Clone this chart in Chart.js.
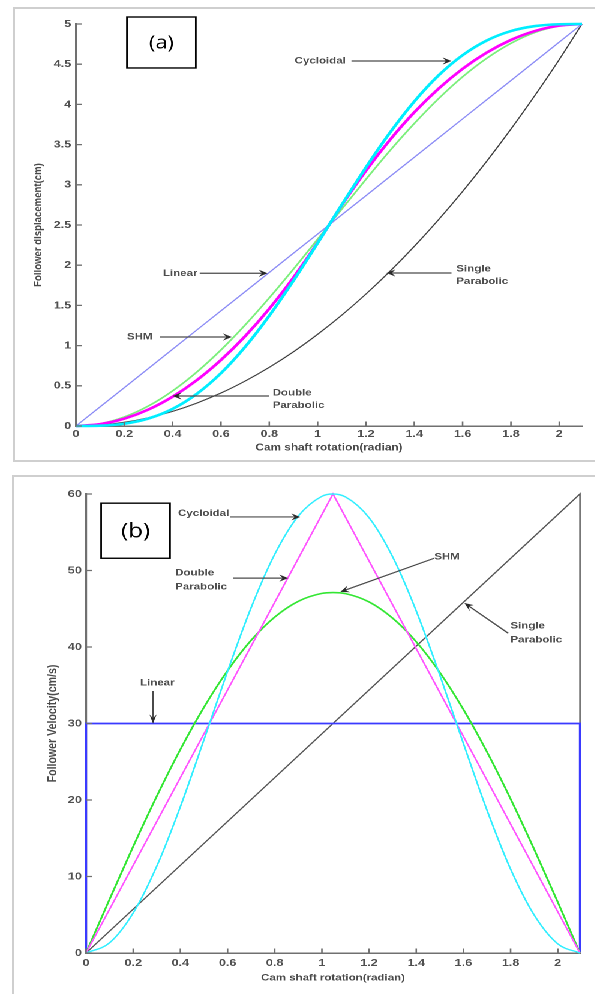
<!DOCTYPE html>
<html>
<head>
<meta charset="utf-8">
<script src="https://cdn.jsdelivr.net/npm/chart.js@4.4.1/dist/chart.umd.min.js"></script>
<style>
  html, body { margin:0; padding:0; background:#fff; width:595px; height:994px; overflow:hidden; }
  .frame { position:absolute; border:2px solid #cfcfcf; border-right:none; }
  #frameA { left:13px; top:7px; width:700px; height:451px; }
  #frameB { left:12px; top:475px; width:700px; height:700px; }
  #wrap { position:absolute; left:0; top:0; width:496px; height:994px; transform:scaleX(1.2); transform-origin:0 0; }
  #c1 { position:absolute; left:0; top:0; }
  #c2 { position:absolute; left:0; top:470px; }
</style>
</head>
<body>
<div class="frame" id="frameA"></div>
<div class="frame" id="frameB"></div>
<div id="wrap">
  <canvas id="c1" width="496" height="470"></canvas>
  <canvas id="c2" width="496" height="524"></canvas>
</div>
<script>
// ---------- data ----------
const S = 1.2; // horizontal stretch of the picture
const thetaMax = 2.094;
const xTicks = [0, 0.2, 0.4, 0.6, 0.8, 1, 1.2, 1.4, 1.6, 1.8, 2];
const yTicksA = [0, 0.5, 1, 1.5, 2, 2.5, 3, 3.5, 4, 4.5, 5];
const yTicksB = [0, 10, 20, 30, 40, 50, 60];

// (a) follower displacement (cm)
const dispTheta    = [0, 0.1, 0.2, 0.3, 0.4, 0.5, 0.6, 0.7, 0.8, 0.9, 1.0, 1.1, 1.2, 1.3, 1.4, 1.5, 1.6, 1.7, 1.8, 1.9, 2.0, 2.094];
const dispLinear   = [0, 0.239, 0.477, 0.716, 0.955, 1.194, 1.432, 1.671, 1.910, 2.149, 2.387, 2.626, 2.865, 3.104, 3.342, 3.581, 3.820, 4.058, 4.297, 4.536, 4.775, 5];
const dispSingle   = [0, 0.011, 0.046, 0.103, 0.182, 0.285, 0.410, 0.559, 0.730, 0.923, 1.140, 1.379, 1.641, 1.926, 2.234, 2.565, 2.918, 3.294, 3.693, 4.115, 4.559, 5];
const dispSHM      = [0, 0.028, 0.112, 0.249, 0.437, 0.671, 0.946, 1.256, 1.594, 1.952, 2.323, 2.698, 3.068, 3.427, 3.762, 4.070, 4.343, 4.574, 4.760, 4.896, 4.975, 5];
const dispCycloid  = [0, 0.004, 0.028, 0.093, 0.213, 0.400, 0.657, 0.984, 1.372, 1.808, 2.275, 2.752, 3.217, 3.651, 4.036, 4.359, 4.612, 4.795, 4.912, 4.974, 4.997, 5];
const dispDouble   = [0, 0.023, 0.091, 0.205, 0.365, 0.570, 0.821, 1.117, 1.459, 1.847, 2.280, 2.746, 3.176, 3.561, 3.901, 4.195, 4.443, 4.645, 4.802, 4.914, 4.980, 5];

// (b) follower velocity (cm/s)
const velTheta     = [0, 0.1, 0.2, 0.3, 0.4, 0.5, 0.6, 0.7, 0.8, 0.9, 1.0, 1.047, 1.1, 1.2, 1.3, 1.4, 1.5, 1.6, 1.7, 1.8, 1.9, 2.0, 2.094];
const velCycloid   = [0, 1.34, 5.24, 11.35, 19.13, 27.88, 36.82, 45.15, 52.12, 57.12, 59.70, 60, 59.62, 56.90, 51.78, 44.71, 36.32, 27.38, 18.66, 10.96, 4.96, 1.20, 0];
const velSHM       = [0, 7.04, 13.93, 20.50, 26.61, 32.12, 36.91, 40.88, 43.92, 45.98, 47.01, 47.12, 46.98, 45.89, 43.76, 40.68, 36.67, 31.83, 26.28, 20.14, 13.55, 6.65, 0];
const velDoubleX   = [0, 1.047, 2.094];
const velDouble    = [0, 60, 0];
const velSingleX   = [0, 2.094, 2.094];
const velSingle    = [0, 60, 0];
const velLinearX   = [0, 0, 2.094, 2.094];
const velLinear    = [0, 30, 30, 0];

// annotations (data coordinates)
const notesA = [
  { lines:['Cycloidal'], tx:0.905, ty:4.54, from:[1.14, 4.54], to:[1.554, 4.54] },
  { lines:['Linear'], tx:0.36, ty:1.90, from:[0.512, 1.90], to:[0.793, 1.90] },
  { lines:['SHM'], tx:0.211, ty:1.107, from:[0.347, 1.107], to:[0.645, 1.107] },
  { lines:['Double', 'Parabolic'], tx:0.814, ty:0.41, from:[0.80, 0.373], to:[0.40, 0.373] },
  { lines:['Single', 'Parabolic'], tx:1.574, ty:1.953, from:[1.554, 1.903], to:[1.285, 1.903] }
];
const notesB = [
  { lines:['Cycloidal'], tx:0.39, ty:57.5, from:[0.611, 57.0], to:[0.908, 57.0] },
  { lines:['Double', 'Parabolic'], tx:0.378, ty:49.67, from:[0.624, 49.0], to:[0.857, 49.0] },
  { lines:['SHM'], tx:1.476, ty:51.76, from:[1.476, 51.6], to:[1.078, 47.2] },
  { lines:['Single', 'Parabolic'], tx:1.799, ty:42.75, from:[1.79, 41.8], to:[1.604, 45.75] },
  { lines:['Linear'], tx:0.229, ty:35.3, from:[0.284, 34.25], to:[0.284, 30.0] }
];
const boxA = { label:'(a)', x0:0.211, x1:0.496, y0:5.087, y1:4.453, size:18 };
const boxB = { label:'(b)', x0:0.064, x1:0.356, y0:58.8, y1:51.6, size:20 };
const xTitle = 'Cam shaft rotation(radian)';
const yTitleA = 'Follower displacement(cm)';
const yTitleB = 'Follower Velocity(cm/s)';

// ---------- helpers ----------
function pts(xs, ys) { return xs.map((x, i) => ({ x: x, y: ys[i] })); }
const FONT = '"Liberation Sans", Arial, Helvetica, sans-serif';
Chart.defaults.font.family = FONT;
Chart.defaults.color = '#4d4d4d';

const decor = {
  id: 'decor',
  afterDraw(chart, args, o) {
    const { ctx, chartArea: a } = chart;
    const xs = chart.scales.x, ys = chart.scales.y;
    const px = v => xs.getPixelForValue(v), py = v => ys.getPixelForValue(v);
    ctx.save();
    // inward tick marks
    ctx.strokeStyle = o.axisColor; ctx.lineWidth = 1.3;
    ctx.beginPath();
    o.yTicks.forEach(v => { const p = py(v); ctx.moveTo(a.left, p); ctx.lineTo(a.left + 5, p); });
    o.xTicks.forEach(v => { const p = px(v); ctx.moveTo(p, a.bottom); ctx.lineTo(p, a.bottom - 4.5); });
    ctx.stroke();
    // axis titles
    ctx.fillStyle = '#4a4a4a';
    ctx.textAlign = 'center'; ctx.textBaseline = 'middle';
    ctx.font = 'bold ' + o.xTitleSize + 'px ' + FONT;
    ctx.fillText(o.xTitle, (a.left + a.right) / 2, a.bottom + o.xTitleGap);
    const tX = a.left - o.yTitleGap, tY = (a.top + a.bottom) / 2;
    ctx.save();
    ctx.translate(tX, tY);
    ctx.rotate(-Math.PI / 2);
    ctx.font = 'bold ' + o.yTitleSize + 'px ' + FONT;
    ctx.textAlign = 'center'; ctx.textBaseline = 'middle';
    ctx.fillText(o.yTitle, 0, 0);
    ctx.restore();
    // label box
    const b = o.box;
    const bx0 = px(b.x0), bx1 = px(b.x1), by0 = py(b.y0), by1 = py(b.y1);
    ctx.strokeStyle = '#000'; ctx.lineWidth = 1.4;
    ctx.strokeRect(bx0, by0, bx1 - bx0, by1 - by0);
    ctx.fillStyle = '#000';
    ctx.font = b.size + 'px "Open Sans", "Noto Sans", sans-serif';
    ctx.textAlign = 'center';
    ctx.fillText(b.label, (bx0 + bx1) / 2, (by0 + by1) / 2 + 1);
    // notes
    ctx.font = 'bold ' + o.noteSize + 'px ' + FONT;
    ctx.textAlign = 'left';
    o.notes.forEach(n => {
      ctx.fillStyle = '#4d4d4d';
      n.lines.forEach((t, i) => ctx.fillText(t, px(n.tx), py(n.ty) + i * o.lineGap));
      const fx = px(n.from[0]), fy = py(n.from[1]), tx = px(n.to[0]), ty = py(n.to[1]);
      let dx = (tx - fx) * S, dy = ty - fy;
      const len = Math.hypot(dx, dy); dx /= len; dy /= len;
      const L = 9, W = 3.6, N = 0.6;
      const bxp = -dx * L, byp = -dy * L;
      const nx = -dy, ny = dx;
      const p1 = [tx + (bxp + nx * W) / S, ty + byp + ny * W];
      const p2 = [tx + (bxp * N) / S, ty + byp * N];
      const p3 = [tx + (bxp - nx * W) / S, ty + byp - ny * W];
      ctx.strokeStyle = '#4a4a4a'; ctx.lineWidth = 1.2;
      ctx.beginPath(); ctx.moveTo(fx, fy); ctx.lineTo(p2[0], p2[1]); ctx.stroke();
      ctx.fillStyle = '#2a2a2a';
      ctx.beginPath(); ctx.moveTo(tx, ty); ctx.lineTo(p1[0], p1[1]); ctx.lineTo(p2[0], p2[1]); ctx.lineTo(p3[0], p3[1]); ctx.closePath(); ctx.fill();
    });
    ctx.restore();
  }
};

function ds(data, color, width, smooth) {
  return {
    data: data, borderColor: color, borderWidth: width, pointRadius: 0, fill: false, clip: false,
    tension: 0, cubicInterpolationMode: smooth ? 'monotone' : 'default'
  };
}

function makeChart(id, datasets, o) {
  return new Chart(document.getElementById(id), {
    type: 'line',
    data: { datasets: datasets },
    plugins: [decor],
    options: {
      responsive: false, animation: false, events: [], devicePixelRatio: 2,
      layout: { padding: { left: 0, top: o.padTop, right: o.padRight, bottom: 0 } },
      plugins: { legend: { display: false }, tooltip: { enabled: false }, decor: o.decor },
      scales: {
        x: {
          type: 'linear', min: 0, max: thetaMax,
          afterBuildTicks: s => { s.ticks = xTicks.map(v => ({ value: v })); },
          afterFit: s => { s.height = o.xHeight; },
          grid: { display: false, drawTicks: false },
          border: { display: true, color: o.axisColor, width: 1.5 },
          ticks: { callback: v => String(v), font: { size: o.tickSize, weight: 'bold' }, color: '#505050', padding: o.xTickPad, maxRotation: 0, autoSkip: false },
          title: { display: false }
        },
        y: {
          type: 'linear', min: 0, max: o.yMax,
          afterBuildTicks: s => { s.ticks = o.yTicks.map(v => ({ value: v })); },
          afterFit: s => { s.width = o.yWidth; },
          grid: { display: false, drawTicks: false },
          border: { display: true, color: o.axisColor, width: 1.6 },
          ticks: { callback: v => String(v), font: { size: o.tickSize, weight: 'bold' }, color: '#505050', padding: o.yTickPad, autoSkip: false },
          title: { display: false }
        }
      }
    }
  });
}

makeChart('c1', [
  ds(pts(dispTheta, dispCycloid), '#00eeff', 2.6, true),
  ds(pts(dispTheta, dispDouble), '#ff00ff', 2.6, true),
  ds(pts(dispTheta, dispSHM), '#7cef7c', 1.6, true),
  ds(pts(dispTheta, dispLinear), '#8c8cf5', 1.2, false),
  ds(pts(dispTheta, dispSingle), '#404040', 1.1, true)
], {
  padTop: 24, padRight: 11, xHeight: 44, yWidth: 63.3, yMax: 5, yTicks: yTicksA,
  tickSize: 10.5, xTickPad: 2, yTickPad: 4, axisColor: '#707070',
  decor: { yTicks: yTicksA, xTicks: xTicks, axisColor: '#707070', notes: notesA, box: boxA, noteSize: 9.6, lineGap: 12.5,
           xTitle: xTitle, xTitleSize: 9.8, xTitleGap: 22, yTitle: yTitleA, yTitleSize: 9.6, yTitleGap: 31.6 }
});

makeChart('c2', [
  ds(pts(velTheta, velCycloid), '#33eeff', 1.4, true),
  ds(pts(velDoubleX, velDouble), '#ff55ff', 1.4, false),
  ds(pts(velTheta, velSHM), '#33e633', 1.6, true),
  ds(pts(velLinearX, velLinear), '#3a3aff', 1.8, false),
  ds(pts(velSingleX, velSingle), '#555555', 1.2, false)
], {
  padTop: 24, padRight: 12.7, xHeight: 41, yWidth: 71.7, yMax: 60, yTicks: yTicksB,
  tickSize: 10.5, xTickPad: 4, yTickPad: 3.5, axisColor: '#707070',
  decor: { yTicks: yTicksB, xTicks: xTicks, axisColor: '#707070', notes: notesB, box: boxB, noteSize: 9.6, lineGap: 14,
           xTitle: xTitle, xTitleSize: 9.6, xTitleGap: 25, yTitle: yTitleB, yTitleSize: 10.6, yTitleGap: 27.5 }
});
</script>
</body>
</html>
